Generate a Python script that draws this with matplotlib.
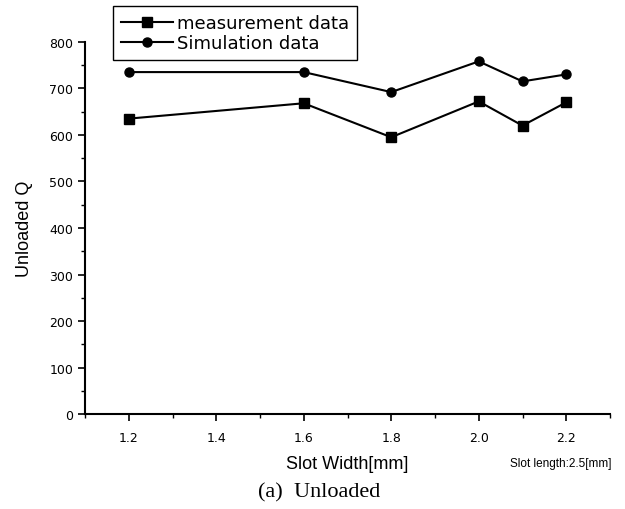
import numpy as np
import matplotlib
matplotlib.use("Agg")
import matplotlib.pyplot as plt
from matplotlib.ticker import MultipleLocator

# data
slot_width = [1.2, 1.6, 1.8, 2.0, 2.1, 2.2]
measurement_q = [635, 668, 595, 672, 620, 670]
simulation_q = [735, 735, 692, 758, 715, 730]

plt.rcParams['font.family'] = ['Liberation Sans', 'DejaVu Sans']

fig = plt.figure(figsize=(6.25, 5.1), dpi=100)
ax = fig.add_axes([0.136, 0.186, 0.84, 0.73])

l1, = ax.plot(slot_width, measurement_q, color='black', lw=1.5,
              marker='s', markersize=6.5, label='measurement data')
l2, = ax.plot(slot_width, simulation_q, color='black', lw=1.5,
              marker='o', markersize=6.5, label='Simulation data')

ax.set_xlim(1.1, 2.3)
ax.set_ylim(0, 800)
ax.xaxis.set_minor_locator(MultipleLocator(0.1))
ax.yaxis.set_major_locator(MultipleLocator(100))
ax.yaxis.set_minor_locator(MultipleLocator(50))
ax.set_xticks([1.2, 1.4, 1.6, 1.8, 2.0, 2.2])
ax.set_xticklabels(['1.2', '1.4', '1.6', '1.8', '2.0', '2.2'])

for s in ['top', 'right']:
    ax.spines[s].set_visible(False)
for s in ['left', 'bottom']:
    ax.spines[s].set_linewidth(1.5)

ax.tick_params(which='major', direction='out', length=5, width=1.2, labelsize=9)
ax.tick_params(which='minor', direction='out', length=3, width=1.0)
ax.tick_params(axis='x', pad=7)
for lab in ax.get_xticklabels() + ax.get_yticklabels():
    lab.set_family('DejaVu Sans')

ax.set_ylabel('Unloaded Q', fontsize=13, labelpad=12)
fig.text(0.555, 0.09, 'Slot Width[mm]', fontsize=13, ha='center', va='center')
fig.text(0.979, 0.09, 'Slot length:2.5[mm]', fontsize=8.5, ha='right', va='center')
fig.text(0.51, 0.033, '(a)  Unloaded', fontsize=16, ha='center', va='center',
         family='Liberation Serif')

leg = fig.legend(handles=[l1, l2], loc='upper left',
                 bbox_to_anchor=(113/625, 1 - 7/510), bbox_transform=fig.transFigure,
                 prop={'family': 'DejaVu Sans', 'size': 13},
                 fancybox=False, framealpha=1, edgecolor='black',
                 borderaxespad=0, handlelength=2.9, handletextpad=0.2,
                 labelspacing=0.12, borderpad=0.45)
leg.get_frame().set_linewidth(1.0)

fig.savefig('out.png', dpi=100)
